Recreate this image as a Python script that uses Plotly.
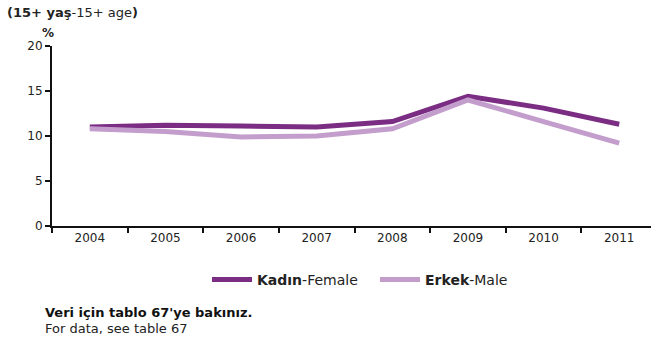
import plotly.graph_objects as go

years = ["2004", "2005", "2006", "2007", "2008", "2009", "2010", "2011"]
female = [11.0, 11.2, 11.1, 11.0, 11.6, 14.4, 13.1, 11.3]
male = [10.8, 10.5, 9.9, 10.0, 10.8, 14.0, 11.6, 9.2]
y_ticks = [0, 5, 10, 15, 20]

FONT = "DejaVu Sans"
W, H = 651, 343
L, T, B = 52, 46, 117
plot_w = W - L
plot_h = H - T - B


def px_x(x):
    return (x - L) / plot_w


def px_y(y):
    return (H - B - y) / plot_h


fig = go.Figure()
fig.add_trace(go.Scatter(
    x=years, y=female, mode="lines", name="<b>Kadın</b>-Female",
    line=dict(color="#7b2d84", width=5),
))
fig.add_trace(go.Scatter(
    x=years, y=male, mode="lines", name="<b>Erkek</b>-Male",
    line=dict(color="#c39dcc", width=5),
))

fig.update_layout(
    width=W, height=H,
    margin=dict(l=L, r=0, t=T, b=B),
    paper_bgcolor="white", plot_bgcolor="white",
    font=dict(family=FONT, size=12, color="#222"),
    showlegend=True,
    legend=dict(
        orientation="h", x=px_x(207), y=px_y(280), xanchor="left", yanchor="middle",
        font=dict(family=FONT, size=14, color="#222"),
        itemwidth=40, entrywidth=113, tracegroupgap=0,
        bgcolor="rgba(0,0,0,0)",
    ),
    xaxis=dict(
        type="category", range=[-0.5, 7.42],
        showgrid=False, showline=True, linecolor="#111", linewidth=2,
        ticks="outside", tickson="boundaries", ticklen=5, tickwidth=2, tickcolor="#111",
        tickfont=dict(family=FONT, size=12, color="#222"),
        fixedrange=True,
    ),
    yaxis=dict(
        range=[0, 20], tickvals=y_ticks,
        showgrid=False, showline=True, linecolor="#111", linewidth=2,
        ticks="outside", ticklen=5, tickwidth=2, tickcolor="#111",
        tickfont=dict(family=FONT, size=12, color="#222"),
        zeroline=False, fixedrange=True,
    ),
    annotations=[
        dict(text="<b>(15+ yaş</b>-15+ age<b>)</b>", x=px_x(5), y=px_y(12),
             xref="paper", yref="paper", xanchor="left", yanchor="middle",
             showarrow=False, font=dict(family=FONT, size=13, color="#222")),
        dict(text="<b>%</b>", x=px_x(48), y=px_y(33),
             xref="paper", yref="paper", xanchor="center", yanchor="middle",
             showarrow=False, font=dict(family=FONT, size=12, color="#222")),
        dict(text="<b>Veri için tablo 67'ye bakınız.</b>", x=px_x(43), y=px_y(312),
             xref="paper", yref="paper", xanchor="left", yanchor="middle",
             showarrow=False, font=dict(family=FONT, size=13, color="#111")),
        dict(text="For data, see table 67", x=px_x(43), y=px_y(328),
             xref="paper", yref="paper", xanchor="left", yanchor="middle",
             showarrow=False, font=dict(family=FONT, size=13, color="#222")),
    ],
)

fig.write_html("out.html", config={"displayModeBar": False})
